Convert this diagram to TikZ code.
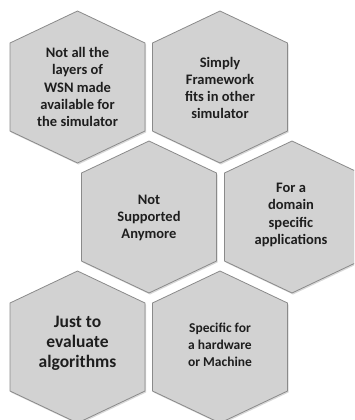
\documentclass[tikz,border=0pt]{standalone}
\usepackage{fontspec}
\setmainfont{Carlito}
\usetikzlibrary{shadows}
\definecolor{cellfill}{HTML}{D2D2D2}
\definecolor{celledge}{HTML}{8A8A8A}
\definecolor{celltext}{HTML}{1E1E1E}
\tikzset{
  cellshape/.style={fill=cellfill, draw=celledge, line width=0.8pt, line join=miter,
    drop shadow={opacity=0.3, shadow xshift=1pt, shadow yshift=-1.5pt}},
  celllabel/.style={align=center, text=celltext, font=\bfseries\fontsize{14.5}{17.2}\selectfont, inner sep=0pt},
  pics/hexcell/.style={code={
    \path[cellshape] (0,-76) -- (67.5,-44) -- (67.5,44) -- (0,76) -- (-67.5,44) -- (-67.5,-44) -- cycle;
  }}
}
\begin{document}
\begin{tikzpicture}[x=1pt,y=-1pt]
  \useasboundingbox (0,0) rectangle (354,420);
  \clip (0,0) rectangle (354,420);
  % honeycomb cells
  \pic at (77.5,87) {hexcell};
  \pic at (220,87) {hexcell};
  \pic at (149,217) {hexcell};
  \pic at (292,217) {hexcell};
  \pic at (77.5,347) {hexcell};
  \pic at (220,347) {hexcell};
  % cell texts
  \node[celllabel] (layers) at (77.5,87) {Not all the\\layers of\\WSN made\\available for\\the simulator};
  \node[celllabel] (framework) at (220,88) {Simply\\Framework\\fits in other\\simulator};
  \node[celllabel] (unsupported) at (149,218) {Not\\Supported\\Anymore};
  \node[celllabel] (domain) at (291,215) {For a\\domain\\specific\\applications};
  \node[celllabel, font=\bfseries\fontsize{17.5}{20}\selectfont] (algorithms) at (77.5,343) {Just to\\evaluate\\algorithms};
  \node[celllabel, font=\bfseries\fontsize{13.5}{17}\selectfont] (hardware) at (220,345) {Specific for\\a hardware\\or Machine};
\end{tikzpicture}
\end{document}
